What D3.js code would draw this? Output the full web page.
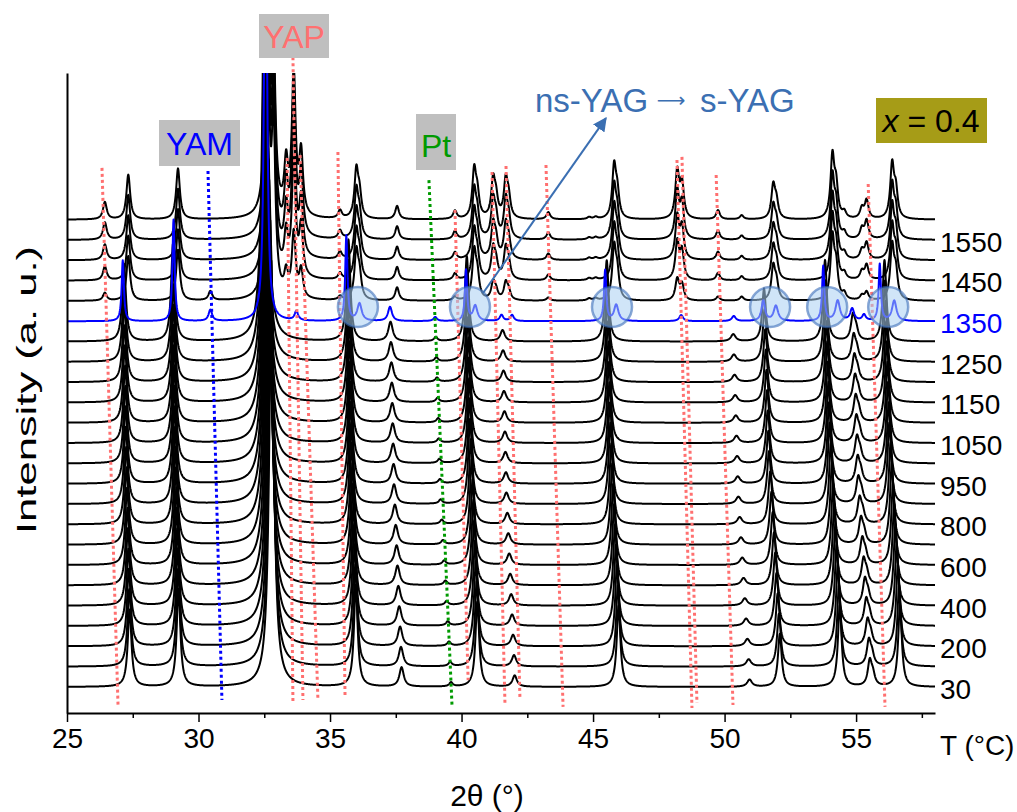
<!DOCTYPE html>
<html>
<head>
<meta charset="utf-8">
<script src="https://cdn.jsdelivr.net/npm/d3@7"></script>
<style>
  body { margin: 0; background: #fff; }
  svg { display: block; }
  text { font-family: "Liberation Sans", Arial, sans-serif; }
</style>
</head>
<body>
<script>
// temperatures of the stacked patterns (bottom -> top)
const temps = [30, 100, 200, 300, 400, 500, 600, 700, 800, 900, 950, 1000, 1050,
  1100, 1150, 1200, 1250, 1300, 1350, 1400, 1450, 1500, 1550, 1600];
const labelTemps = [30, 200, 400, 600, 800, 950, 1050, 1150, 1250, 1350, 1450, 1550];

// ns-YAG (+Pt) reflections for T <= 1300: 2θ at 30 °C, 2θ at 1300 °C, height, HWHM
const nsPos30   = [27.38, 29.24, 32.78, 35.98, 37.72, 39.60, 40.60, 42.02, 45.97, 50.95, 52.10, 54.38, 55.52, 55.64, 56.67];
const nsPos1300 = [27.17, 29.03, 32.52, 35.70, 37.30, 39.02, 40.20, 41.56, 45.52, 50.33, 51.50, 53.82, 54.88, 55.00, 56.08];
const nsHeight  = [3.8, 4.8, 20, 5.0, 0.95, 0.2, 4.2, 0.55, 4.0, 0.35, 2.6, 4.0, 1.2, 0.5, 4.0];
const nsWidth   = [0.085, 0.085, 0.11, 0.085, 0.1, 0.08, 0.085, 0.1, 0.085, 0.11, 0.085, 0.085, 0.09, 0.09, 0.085];

// 1350 °C pattern (transition, blue)
const midPos    = [27.12, 29.05, 30.45, 32.55, 33.72, 35.62, 36.12, 37.28, 39.0, 40.17, 40.52, 41.52, 41.92,
  45.46, 45.88, 48.35, 50.35, 51.47, 51.95, 53.75, 54.3, 54.85, 55.3, 55.9, 56.45];
const midHeight = [3.0, 5.0, 0.55, 25, 0.45, 4.2, 0.85, 0.7, 0.2, 2.5, 0.75, 0.3, 0.3,
  2.5, 0.8, 0.3, 0.25, 1.0, 0.75, 2.7, 1.0, 0.6, 0.3, 2.8, 1.0];
const midWidth  = [0.05, 0.05, 0.08, 0.06, 0.08, 0.05, 0.1, 0.09, 0.08, 0.05, 0.1, 0.08, 0.08,
  0.05, 0.1, 0.09, 0.09, 0.08, 0.1, 0.05, 0.1, 0.09, 0.08, 0.05, 0.1];

// s-YAG / YAP / YAM reflections for T >= 1400 (heights at 1600 °C)
const hiPos    = [26.44, 27.33, 29.22, 30.45, 32.62, 32.85, 33.33, 33.62, 33.90, 35.38, 36.00, 36.12, 37.55,
  39.75, 40.48, 40.60, 41.20, 41.31, 41.68, 41.79, 43.30, 44.85, 45.10, 45.80, 45.92, 48.20, 48.38,
  49.75, 50.65, 51.85, 51.97, 54.10, 54.24, 54.55, 55.22, 55.40, 56.37, 56.51];
const hiHeight = [0.85, 2.2, 2.5, 0.45, 14, 8, 2.4, 7.0, 3.0, 0.4, 2.3, 1.1, 0.65,
  0.4, 2.3, 1.1, 1.8, 0.9, 1.8, 0.9, 0.35, 0.1, 0.1, 2.5, 1.2, 2.3, 1.7,
  0.45, 0.2, 1.6, 0.8, 3.0, 1.5, 0.3, 0.5, 0.9, 2.6, 1.3];
const hiPhase  = ["yap", "yag", "yag", "yam", "yag", "yag", "yap", "yap", "yap", "yap", "yag", "yag", "yag",
  "yap", "yag", "yag", "yap", "yap", "yap", "yap", "yap", "yag", "yag", "yag", "yag", "yap", "yap",
  "yap", "yag", "yag", "yag", "yag", "yag", "yag", "yap", "yap", "yag", "yag"];
const hiTemps  = [1400, 1450, 1500, 1550, 1600];
const yapAmp   = [0.45, 0.8, 0.9, 1.0, 1.0];
const yamAmp   = [1, 0, 0, 0, 0];

// reference lines: 2θ at top, 2θ at bottom, top level, bottom level (offset units)
const yapTop      = [26.33, 33.37, 33.59, 33.86, 35.30, 39.75, 41.16, 41.69, 43.21, 48.19, 48.38, 49.68, 55.46];
const yapBottom   = [26.94, 33.59, 33.97, 34.54, 35.57, 40.25, 41.65, 42.22, 43.86, 48.76, 48.95, 50.32, 56.10];
const yapTopLvl   = [25.55, 26.04, 31.0, 26.18, 26.33, 23.48, 25.35, 25.64, 25.69, 25.94, 26.09, 25.2, 24.76];
const yapBotLvl   = [-0.89, -0.74, -0.64, -0.64, -0.39, 0.34, -0.79, -0.54, -0.98, -1.03, -0.79, -0.89, -0.98];
const yamLine = [30.36, 30.89, 25.4, -0.64];
const ptLine  = [38.76, 39.64, 24.95, -0.98];

// highlighted split reflections at 1350 °C
const circlePos = [36.06, 40.32, 45.72, 51.73, 53.90, 56.22];
const circleLvl = 18.7;

const W = 1017, H = 812;
const svg = d3.select("body").append("svg").attr("width", W).attr("height", H);

const x = d3.scaleLinear().domain([25, 58]).range([67, 935]);
const y = d3.scaleLinear().domain([-1.28, 30.22]).range([713, 73]);

svg.append("clipPath").attr("id", "plot-clip")
  .append("rect").attr("x", 67).attr("y", 73).attr("width", 868).attr("height", 640);

// profile from a list of lorentzian peaks
const grid = d3.range(25, 58.0001, 0.01);
function profile(peaks) {
  return grid.map(t => [t, d3.sum(peaks, p => p.h * p.w * p.w / ((t - p.pos) ** 2 + p.w * p.w))]);
}

function peaksFor(T) {
  if (T <= 1300) {
    const f = (T - 30) / 1270;
    return nsPos30.map((p, k) => ({ pos: p + (nsPos1300[k] - p) * f, h: nsHeight[k], w: nsWidth[k] }));
  }
  if (T === 1350) {
    return midPos.map((p, k) => ({ pos: p, h: midHeight[k], w: midWidth[k] }));
  }
  const j = hiTemps.indexOf(T);
  return hiPos.map((p, k) => {
    const amp = hiPhase[k] === "yap" ? yapAmp[j] : hiPhase[k] === "yam" ? yamAmp[j] : 1;
    return { pos: p, h: hiHeight[k] * amp, w: 0.085 };
  });
}

const curves = temps.map((T, i) => ({ T, i, values: profile(peaksFor(T)) }));

const gCurves = svg.append("g").attr("clip-path", "url(#plot-clip)");
const line = i => d3.line().x(d => x(d[0])).y(d => y(d[1] + i));

gCurves.selectAll("path.xrd")
  .data(curves.filter(c => c.T !== 1350).reverse())
  .join("path")
  .attr("class", "xrd")
  .attr("fill", "none")
  .attr("stroke", "#000")
  .attr("stroke-width", 2)
  .attr("stroke-linejoin", "round")
  .attr("d", c => line(c.i)(c.values));

gCurves.selectAll("path.blue")
  .data(curves.filter(c => c.T === 1350))
  .join("path")
  .attr("class", "blue")
  .attr("fill", "none")
  .attr("stroke", "#0000ff")
  .attr("stroke-width", 2)
  .attr("stroke-linejoin", "round")
  .attr("d", c => line(c.i)(c.values));

// dotted reference lines
const dotted = (x1, x2, l1, l2, color) => svg.append("line")
  .attr("x1", x(x1)).attr("x2", x(x2)).attr("y1", y(l1)).attr("y2", y(l2))
  .attr("stroke", color).attr("stroke-width", 3).attr("stroke-dasharray", "3,3");

yapTop.forEach((p, k) => dotted(p, yapBottom[k], yapTopLvl[k], yapBotLvl[k], "#ff7070"));
dotted(yamLine[0], yamLine[1], yamLine[2], yamLine[3], "#0000ff");
dotted(ptLine[0], ptLine[1], ptLine[2], ptLine[3], "#009a00");

// circles
svg.selectAll("circle.mark")
  .data(circlePos)
  .join("circle")
  .attr("class", "mark")
  .attr("cx", d => x(d))
  .attr("cy", y(circleLvl))
  .attr("r", 20)
  .attr("fill", "rgba(170,208,242,0.55)")
  .attr("stroke", "rgba(60,110,185,0.6)")
  .attr("stroke-width", 2.5);

// axes
const major = d3.range(25, 56, 5);
const minor = d3.range(27.5, 58, 5);
svg.append("g")
  .attr("transform", "translate(0,713)")
  .call(d3.axisBottom(x).tickValues(major).tickSize(9).tickSizeOuter(0).tickPadding(6).tickFormat(d3.format("d")))
  .call(g => g.select(".domain").attr("stroke-width", 2))
  .call(g => g.selectAll(".tick line").attr("stroke-width", 1.5))
  .call(g => g.selectAll(".tick text").attr("font-size", 28).attr("fill", "#000")
    .style("font-family", '"Liberation Sans", Arial, sans-serif'));
svg.append("g")
  .attr("transform", "translate(0,713)")
  .call(d3.axisBottom(x).tickValues(minor).tickSize(5).tickSizeOuter(0).tickFormat(""))
  .call(g => g.select(".domain").remove())
  .call(g => g.selectAll(".tick line").attr("stroke-width", 1.5));
svg.append("g")
  .attr("transform", "translate(67,0)")
  .call(d3.axisLeft(y).tickValues([]).tickSizeOuter(0))
  .call(g => g.select(".domain").attr("stroke-width", 2));

// temperature labels
svg.selectAll("text.tlab")
  .data(labelTemps)
  .join("text")
  .attr("class", "tlab")
  .attr("x", 940)
  .attr("y", d => y(temps.indexOf(d)) + 2)
  .attr("dy", "0.35em")
  .attr("font-size", 28)
  .attr("fill", d => d === 1350 ? "#0000ff" : "#000")
  .text(d => d);

svg.append("text").attr("x", 940).attr("y", 755).attr("font-size", 28).text("T (°C)");
svg.append("text").attr("x", 487).attr("y", 806).attr("text-anchor", "middle").attr("font-size", 30).text("2θ (°)");
svg.append("text")
  .attr("transform", "translate(36,390) rotate(-90)")
  .attr("text-anchor", "middle").attr("font-size", 28)
  .attr("textLength", 288).attr("lengthAdjust", "spacingAndGlyphs")
  .text("Intensity (a. u.)");

// phase labels
function boxLabel(bx, by, bw, bh, txt, color, tx, ty) {
  svg.append("rect").attr("x", bx).attr("y", by).attr("width", bw).attr("height", bh).attr("fill", "#bfbfbf");
  svg.append("text").attr("x", tx).attr("y", ty).attr("text-anchor", "middle")
    .attr("font-size", 32).attr("fill", color).text(txt);
}
boxLabel(159, 120, 81, 46, "YAM", "#0000ff", 199.5, 155);
boxLabel(259, 14, 70, 44, "YAP", "#ff7070", 294, 48);
boxLabel(416, 114, 40, 56, "Pt", "#009a00", 436, 157);

// transition annotation
const arrowColor = "#3b6fb2";
svg.append("defs").append("marker")
  .attr("id", "arrow").attr("viewBox", "0 0 10 10").attr("refX", 9).attr("refY", 5)
  .attr("markerWidth", 7).attr("markerHeight", 7).attr("orient", "auto")
  .append("path").attr("d", "M0,0 L10,5 L0,10 z").attr("fill", arrowColor);
svg.append("line")
  .attr("x1", x(40.82)).attr("y1", y(19.39))
  .attr("x2", x(45.49)).attr("y2", y(28.0))
  .attr("stroke", arrowColor).attr("stroke-width", 2)
  .attr("marker-end", "url(#arrow)");
svg.append("text").attr("x", 535).attr("y", 112).attr("font-size", 33).attr("fill", arrowColor).text("ns-YAG");
svg.append("text").attr("x", 671).attr("y", 107).attr("text-anchor", "middle").attr("font-size", 20)
  .style("font-family", '"DejaVu Sans", sans-serif').attr("fill", arrowColor).text("\u27F6");
svg.append("text").attr("x", 700).attr("y", 112).attr("font-size", 33).attr("fill", arrowColor).text("s-YAG");

svg.append("rect").attr("x", 876).attr("y", 98).attr("width", 111).attr("height", 45).attr("fill", "#a69c17");
const xl = svg.append("text").attr("x", 931).attr("y", 132).attr("text-anchor", "middle").attr("font-size", 32).attr("fill", "#000");
xl.append("tspan").attr("font-style", "italic").text("x");
xl.append("tspan").text(" = 0.4");
</script>
</body>
</html>
